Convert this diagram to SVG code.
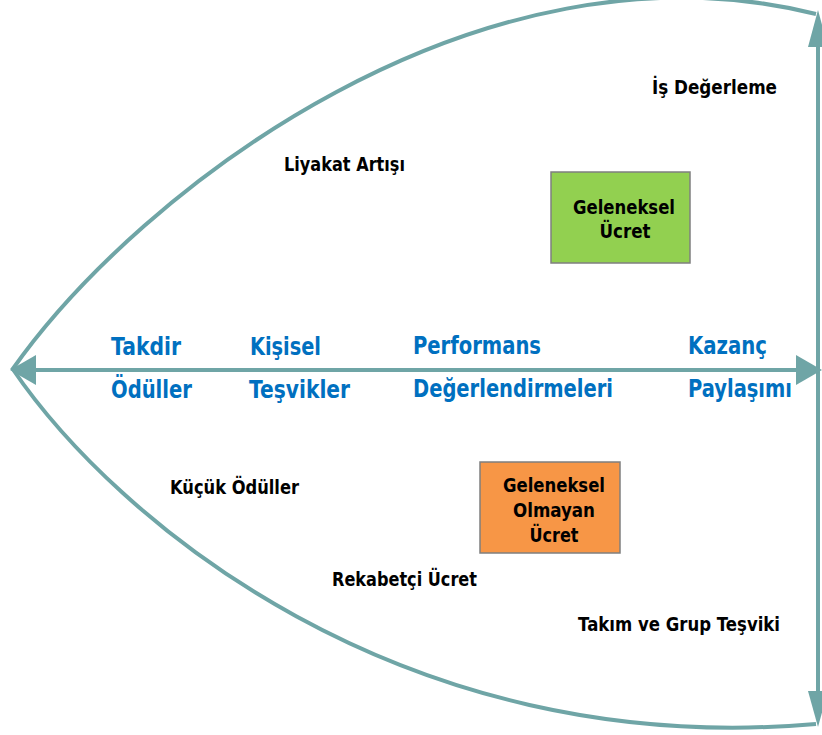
<svg xmlns="http://www.w3.org/2000/svg" width="822" height="735" viewBox="0 0 822 735">
<style>
.ln{fill:none;stroke:#6fa5a6;stroke-width:4}
.ah{fill:#6fa5a6}
.bk{font-family:"DejaVu Sans",sans-serif;font-weight:bold;font-size:20px;fill:#000}
.bl{font-family:"DejaVu Sans",sans-serif;font-weight:bold;font-size:24px;fill:#0070c0}
.bx{font-family:"DejaVu Sans",sans-serif;font-weight:bold;font-size:19px;fill:#000;text-anchor:middle}
</style>
<rect width="822" height="735" fill="#fff"/>
<g id="connectors">
<path class="ln" d="M12,370 C140,188 480,-70 816,14"/>
<path class="ln" d="M12,368 C115,520 400,760 816,724"/>
<line class="ln" x1="30" y1="370" x2="800" y2="370"/>
<line class="ln" x1="818" y1="40" x2="818" y2="698"/>
<polygon class="ah" points="10,370 36,355 36,385"/>
<polygon class="ah" points="822,370 796,355 796,385"/>
<polygon class="ah" points="818,10 808,47 828,47"/>
<polygon class="ah" points="818,727 808,691 828,691"/>
</g>
<g id="axis-labels">
<text class="bl" x="111" y="355" textLength="70" lengthAdjust="spacingAndGlyphs">Takdir</text>
<text class="bl" x="111" y="398" textLength="81" lengthAdjust="spacingAndGlyphs">Ödüller</text>
<text class="bl" x="250" y="355" textLength="71" lengthAdjust="spacingAndGlyphs">Kişisel</text>
<text class="bl" x="249" y="398" textLength="101" lengthAdjust="spacingAndGlyphs">Teşvikler</text>
<text class="bl" x="413" y="354" textLength="128" lengthAdjust="spacingAndGlyphs">Performans</text>
<text class="bl" x="413" y="397" textLength="200" lengthAdjust="spacingAndGlyphs">Değerlendirmeleri</text>
<text class="bl" x="688" y="354" textLength="79" lengthAdjust="spacingAndGlyphs">Kazanç</text>
<text class="bl" x="688" y="397" textLength="104" lengthAdjust="spacingAndGlyphs">Paylaşımı</text>
</g>
<g id="is-degerleme"><text class="bk" x="652" y="94" textLength="125" lengthAdjust="spacingAndGlyphs">İş Değerleme</text></g>
<g id="liyakat"><text class="bk" x="284" y="171" textLength="121" lengthAdjust="spacingAndGlyphs">Liyakat Artışı</text></g>
<g id="kucuk"><text class="bk" x="170" y="494" textLength="129" lengthAdjust="spacingAndGlyphs">Küçük Ödüller</text></g>
<g id="rekabetci"><text class="bk" x="332" y="586" textLength="145" lengthAdjust="spacingAndGlyphs">Rekabetçi Ücret</text></g>
<g id="takim"><text class="bk" x="578" y="631" textLength="202" lengthAdjust="spacingAndGlyphs">Takım ve Grup Teşviki</text></g>
<g id="geleneksel">
<rect x="551" y="172" width="139" height="91" fill="#92d050" stroke="#7f7f7f" stroke-width="1.5"/>
<text class="bx" x="624" y="214" textLength="102" lengthAdjust="spacingAndGlyphs">Geleneksel</text>
<text class="bx" x="625" y="238" textLength="51" lengthAdjust="spacingAndGlyphs">Ücret</text>
</g>
<g id="geleneksel-olmayan">
<rect x="480" y="462" width="140" height="91" fill="#f79646" stroke="#7f7f7f" stroke-width="1.5"/>
<text class="bx" x="554" y="492" textLength="102" lengthAdjust="spacingAndGlyphs">Geleneksel</text>
<text class="bx" x="554" y="517" textLength="82" lengthAdjust="spacingAndGlyphs">Olmayan</text>
<text class="bx" x="554" y="542" textLength="49" lengthAdjust="spacingAndGlyphs">Ücret</text>
</g>
</svg>
